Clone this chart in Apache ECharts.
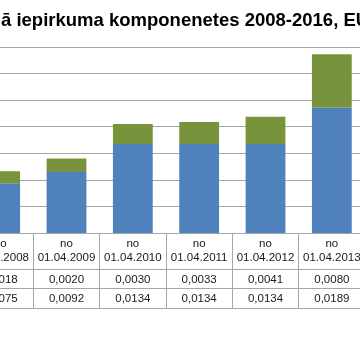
<!DOCTYPE html>
<html>
<head>
<meta charset="utf-8">
<script src="https://cdn.jsdelivr.net/npm/echarts@6/dist/echarts.min.js"></script>
<style>
html,body{margin:0;padding:0;width:360px;height:360px;overflow:hidden;background:#fff;}
#chart{position:absolute;left:-33px;top:0;width:398px;height:360px;}
</style>
</head>
<body>
<div id="chart"></div>
<script>
const titleText = 'ā iepirkuma komponenetes 2008-2016, EUR/kWh';
const prefixes = ['no', 'no', 'no', 'no', 'no', 'no'];
const dates = ['01.04.2008', '01.04.2009', '01.04.2010', '01.04.2011', '01.04.2012', '01.04.2013'];
const greenValues = [0.0018, 0.0020, 0.0030, 0.0033, 0.0041, 0.0080];
const blueValues = [0.0075, 0.0092, 0.0134, 0.0134, 0.0134, 0.0189];

const categories = dates.map((d, i) => prefixes[i] + '\n' + d);
const fmt = v => v.toFixed(4).replace('.', ',');
const gray = '#a6a6a6';
const font = 'Liberation Sans';

const chart = echarts.init(document.getElementById('chart'), null, {renderer: 'canvas'});

function tableAxis(offset, formatter, showLabel, showTick) {
  return {
    type: 'category',
    gridIndex: 0,
    position: 'bottom',
    offset: offset,
    data: categories,
    axisLine: {show: true, lineStyle: {color: gray, width: 1}},
    axisTick: {show: showTick, length: 75, lineStyle: {color: gray, width: 1}},
    axisLabel: {
      show: showLabel,
      interval: 0,
      margin: 4,
      color: '#1a1a1a',
      fontFamily: font,
      fontSize: 11.5,
      lineHeight: 14,
      formatter: formatter
    },
    splitLine: {show: false}
  };
}

chart.setOption({
  animation: false,
  title: {
    text: titleText,
    left: 34,
    top: 11,
    padding: 0,
    textStyle: {fontFamily: font, fontWeight: 'bold', fontSize: 18.5, color: '#000'}
  },
  grid: {left: 0, right: 0, top: 47, bottom: 127, containLabel: false},
  xAxis: [
    tableAxis(0, v => v, true, true),
    tableAxis(36, (v, i) => fmt(greenValues[i]), true, false),
    tableAxis(55, (v, i) => fmt(blueValues[i]), true, false),
    tableAxis(75, () => '', false, false)
  ],
  yAxis: {
    type: 'value',
    min: 0,
    max: 0.028,
    interval: 0.004,
    axisLabel: {show: false},
    axisLine: {show: false},
    axisTick: {show: false},
    splitLine: {show: true, lineStyle: {color: gray, width: 1}}
  },
  series: [
    {
      type: 'bar',
      name: 'blue',
      stack: 'total',
      xAxisIndex: 0,
      barWidth: '60%',
      itemStyle: {color: '#4f81bd'},
      data: blueValues
    },
    {
      type: 'bar',
      name: 'green',
      stack: 'total',
      xAxisIndex: 0,
      barWidth: '60%',
      itemStyle: {color: '#77933c'},
      data: greenValues
    }
  ]
});
</script>
</body>
</html>
